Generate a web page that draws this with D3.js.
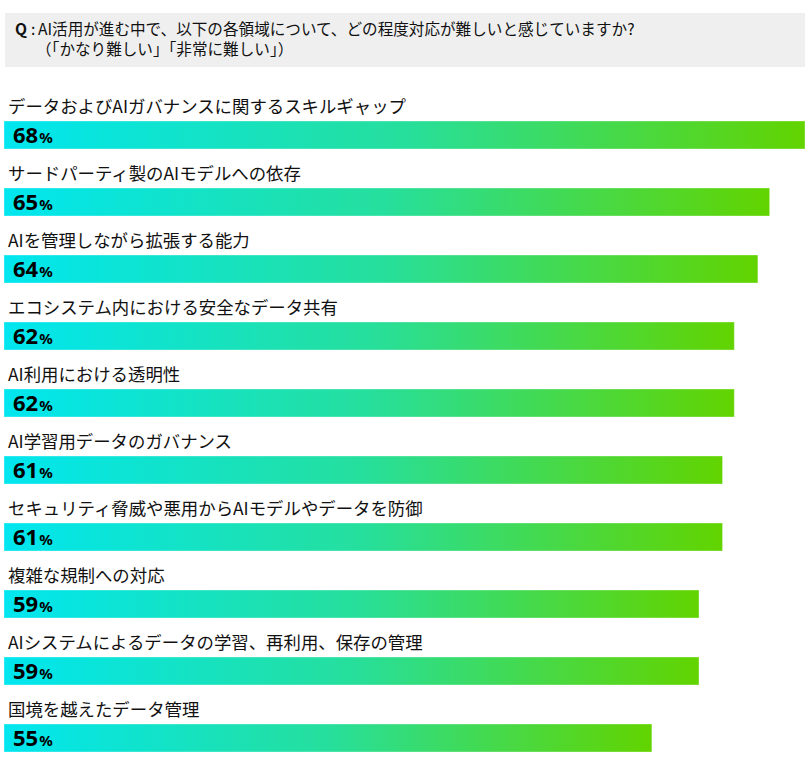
<!DOCTYPE html>
<meta charset="utf-8">
<style>
  body { margin: 0; background: #fff; }
  .label { font-family: "Noto Sans CJK JP", sans-serif; font-size: 17.4px; fill: #111; }
  .pct { font-family: "Noto Sans", sans-serif; font-weight: 700; fill: #000; }
  .q { font-family: "Noto Sans CJK JP", sans-serif; font-size: 15.6px; fill: #111; }
</style>
<body>
<script src="https://d3js.org/d3.v7.min.js"></script>
<script>
var categories = [
  "データおよびAIガバナンスに関するスキルギャップ",
  "サードパーティ製のAIモデルへの依存",
  "AIを管理しながら拡張する能力",
  "エコシステム内における安全なデータ共有",
  "AI利用における透明性",
  "AI学習用データのガバナンス",
  "セキュリティ脅威や悪用からAIモデルやデータを防御",
  "複雑な規制への対応",
  "AIシステムによるデータの学習、再利用、保存の管理",
  "国境を越えたデータ管理"
];
var values = [68, 65, 64, 62, 62, 61, 61, 59, 59, 55];
var questionLines = [
  "AI活用が進む中で、以下の各領域について、どの程度対応が難しいと感じていますか?",
  "（「かなり難しい」「非常に難しい」）"
];

var W = 809, H = 770;
var svg = d3.select("body").append("svg")
    .attr("width", W)
    .attr("height", H);

// gradient for bars
var grad = svg.append("defs").append("linearGradient")
    .attr("id", "barGrad")
    .attr("x1", "0%").attr("x2", "100%").attr("y1", "0%").attr("y2", "0%");
grad.append("stop").attr("offset", "0%").attr("stop-color", "#00e6f0");
grad.append("stop").attr("offset", "50%").attr("stop-color", "#26df9c");
grad.append("stop").attr("offset", "100%").attr("stop-color", "#62d400");

// question box
svg.append("rect")
    .attr("x", 5).attr("y", 13)
    .attr("width", 800).attr("height", 54)
    .attr("fill", "#efefef");
svg.append("text")
    .attr("class", "q")
    .attr("x", 15).attr("y", 35)
    .style("font-weight", 700)
    .text("Q");
svg.append("text")
    .attr("class", "q")
    .attr("x", 31).attr("y", 35)
    .text(":");
svg.selectAll("text.ql")
    .data(questionLines)
  .enter().append("text")
    .attr("class", "q ql")
    .attr("x", function(d, i) { return i === 0 ? 38 : 36; })
    .attr("y", function(d, i) { return 35 + i * 20; })
    .text(function(d) { return d; });

var x = d3.scaleLinear()
    .domain([0, d3.max(values)])
    .range([4, 805]);
var y = d3.scaleBand()
    .domain(categories)
    .range([94, 94 + 67 * categories.length]);

var rows = svg.selectAll("g.row")
    .data(categories)
  .enter().append("g")
    .attr("class", "row")
    .attr("transform", function(d) { return "translate(0," + y(d) + ")"; });

rows.append("text")
    .attr("class", "label")
    .attr("x", 8)
    .attr("y", 19)
    .text(function(d) { return d; });

rows.append("rect")
    .attr("x", x(0))
    .attr("y", 27)
    .attr("width", function(d, i) { return x(values[i]) - x(0); })
    .attr("height", 28)
    .attr("fill", "url(#barGrad)");

// faint light edge at top and bottom of each bar
rows.append("rect")
    .attr("x", x(0))
    .attr("y", 27)
    .attr("width", function(d, i) { return x(values[i]) - x(0); })
    .attr("height", 28)
    .attr("fill", "none")
    .attr("stroke", "#fff")
    .attr("stroke-opacity", 0.35)
    .attr("stroke-width", 1);

var pct = rows.append("text")
    .attr("class", "pct")
    .attr("x", 13)
    .attr("y", 49);
pct.append("tspan")
    .style("font-size", "22px")
    .text(function(d, i) { return values[i]; });
pct.append("tspan")
    .style("font-size", "15px")
    .attr("dx", 1)
    .text("%");
</script>
</body>
